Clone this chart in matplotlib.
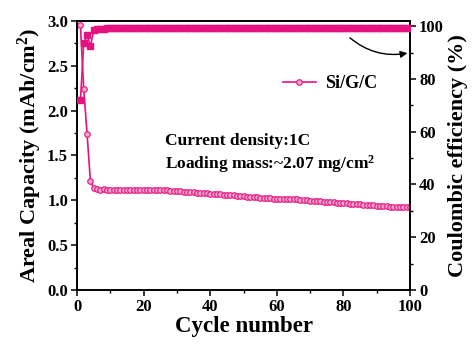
import matplotlib
matplotlib.use("Agg")
import matplotlib.pyplot as plt
from matplotlib.ticker import AutoMinorLocator

cycles = list(range(1, 101))
capacity = [
    2.95, 2.24, 1.74, 1.21, 1.14, 1.13, 1.12, 1.13, 1.12, 1.11,
    1.11, 1.11, 1.11, 1.12, 1.12, 1.11, 1.11, 1.11, 1.11, 1.11,
    1.11, 1.11, 1.11, 1.11, 1.11, 1.11, 1.11, 1.10, 1.10, 1.10,
    1.10, 1.09, 1.09, 1.09, 1.09, 1.08, 1.08, 1.08, 1.08, 1.07,
    1.07, 1.07, 1.07, 1.06, 1.06, 1.06, 1.06, 1.05, 1.05, 1.05,
    1.04, 1.04, 1.04, 1.04, 1.03, 1.03, 1.03, 1.03, 1.02, 1.02,
    1.02, 1.02, 1.01, 1.01, 1.01, 1.01, 1.00, 1.00, 1.00, 0.99,
    0.99, 0.99, 0.99, 0.98, 0.98, 0.98, 0.98, 0.97, 0.97, 0.97,
    0.97, 0.96, 0.96, 0.96, 0.96, 0.95, 0.95, 0.95, 0.95, 0.94,
    0.94, 0.94, 0.94, 0.93, 0.93, 0.93, 0.93, 0.92, 0.92, 0.92,
]
efficiency = [
    72.0, 93.5, 96.5, 92.5, 98.5, 99.0, 99.1, 99.1, 99.2, 99.2,
] + [99.2] * 90

x_ticks = [0, 20, 40, 60, 80, 100]
cap_ticks = [0.0, 0.5, 1.0, 1.5, 2.0, 2.5, 3.0]
ce_ticks = [0, 20, 40, 60, 80, 100]

color = '#e5127f'
plt.rcParams['font.family'] = ['Liberation Serif', 'DejaVu Serif']
plt.rcParams['font.weight'] = 'bold'
plt.rcParams['mathtext.fontset'] = 'custom'
plt.rcParams['mathtext.rm'] = 'Liberation Serif:bold'
plt.rcParams['mathtext.default'] = 'rm'

fig = plt.figure(figsize=(4.73, 3.44), dpi=100)
ax = fig.add_axes([0.163, 0.157, 0.704, 0.782])
ax2 = ax.twinx()

ax.plot(cycles, capacity, '-o', color=color, lw=1.2, ms=4,
        mfc='#f7a6cf', mec=color, mew=0.8, label='Si/G/C', zorder=3)
ax2.plot(cycles, efficiency, '-s', color=color, lw=1.2, ms=4.5,
         mfc=color, mec=color, zorder=3)

ax.set_xlim(0, 100)
ax.set_ylim(0, 3.0)
ax2.set_ylim(0, 102)
ax.set_xticks(x_ticks)
ax.set_yticks(cap_ticks)
ax2.set_yticks(ce_ticks)
ax.xaxis.set_minor_locator(AutoMinorLocator(2))
ax.yaxis.set_minor_locator(AutoMinorLocator(2))
ax2.yaxis.set_minor_locator(AutoMinorLocator(2))

for a in (ax, ax2):
    a.tick_params(which='major', direction='out', length=4, width=1.1, labelsize=12, pad=2.5)
    a.tick_params(which='minor', direction='out', length=2.5, width=1.0)
    for s in a.spines.values():
        s.set_linewidth(1.2)
ax.tick_params(axis='y', which='both', right=False)
ax.tick_params(axis='x', which='both', top=False)

ax.set_xlabel('Cycle number', fontsize=16.5, fontweight='bold', labelpad=1)
ax.set_ylabel('Areal Capacity (mAh/cm$^2$)', fontsize=16, fontweight='bold', labelpad=2)
ax2.set_ylabel('Coulombic efficiency (%)', fontsize=16, fontweight='bold', labelpad=3)

leg = ax.legend(loc='upper left', bbox_to_anchor=(0.57, 0.86), frameon=False,
                fontsize=13, handlelength=1.8, handletextpad=0.5)

ax.text(0.265, 0.555, 'Current density:1C', transform=ax.transAxes,
        fontsize=12.5, fontweight='bold', va='center')
ax.text(0.265, 0.47, 'Loading mass:~2.07 mg/cm$^2$', transform=ax.transAxes,
        fontsize=12.5, fontweight='bold', va='center')

ax2.annotate('', xy=(100, 90), xytext=(81.3, 96.3),
             arrowprops=dict(arrowstyle='-|>', color='black', lw=1.0,
                             connectionstyle='arc3,rad=0.25', mutation_scale=10))

fig.savefig('out.png', dpi=100)
